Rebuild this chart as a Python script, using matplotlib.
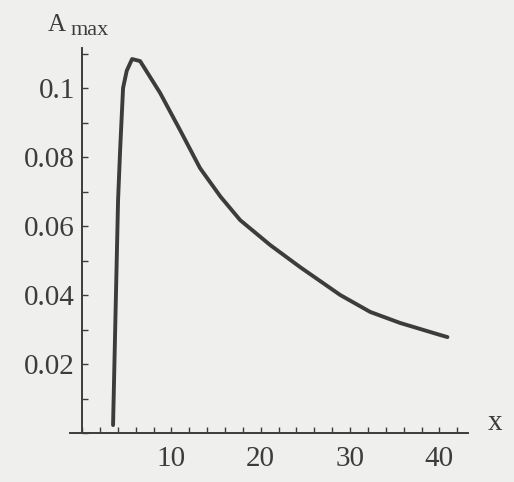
import numpy as np
import matplotlib
matplotlib.use("Agg")
import matplotlib.pyplot as plt
from matplotlib.ticker import MultipleLocator

# curve
x = [3.47, 3.75, 4.03, 4.26, 4.59, 5.0, 5.6, 6.5, 8.73, 10.97, 13.2, 15.5, 17.7,
     21.05, 24.4, 28.9, 32.25, 35.6, 40.1, 40.9]
a_max = [0.0023, 0.035, 0.0675, 0.082, 0.100, 0.105, 0.1084, 0.1078, 0.0986, 0.0878,
         0.0768, 0.0685, 0.0617, 0.0545, 0.0481, 0.0400, 0.0351, 0.0319, 0.0284, 0.0278]

xticks = [10, 20, 30, 40]
yticks = [0.02, 0.04, 0.06, 0.08, 0.1]
ylabels = ["0.02", "0.04", "0.06", "0.08", "0.1"]

ink = "#3c3c3c"
paper = "#efefed"
plt.rcParams["font.family"] = ["Liberation Serif", "DejaVu Serif"]

fig = plt.figure(figsize=(5.14, 4.82), dpi=100, facecolor=paper)
ax = fig.add_axes([70 / 514, 1 - 433 / 482, 398 / 514, 385 / 482])
ax.set_facecolor(paper)

ax.plot(x, a_max, color=ink, lw=2.8, solid_capstyle="round", solid_joinstyle="round")

ax.set_xlim(-1.35, 43.2)
ax.set_ylim(0, 0.1116)

ax.spines["top"].set_visible(False)
ax.spines["right"].set_visible(False)
ax.spines["left"].set_position(("data", 0))
for s in ("left", "bottom"):
    ax.spines[s].set_color(ink)
    ax.spines[s].set_linewidth(1.4)

ax.set_xticks(xticks)
ax.set_yticks(yticks)
ax.set_yticklabels(ylabels)
ax.xaxis.set_minor_locator(MultipleLocator(2))
ax.yaxis.set_minor_locator(MultipleLocator(0.01))
ax.tick_params(which="both", direction="in", color=ink, width=1.0, length=4,
               labelsize=21, labelcolor=ink)
ax.tick_params(axis="x", pad=9)
ax.tick_params(axis="y", pad=5)

fig.text(48 / 514, 1 - 31 / 482, "A", fontsize=18, color=ink, ha="left", va="baseline")
fig.text(71 / 514, 1 - 35 / 482, "max", fontsize=16, color=ink, ha="left", va="baseline")
fig.text(488 / 514, 1 - 430 / 482, "x", fontsize=21, color=ink, ha="left", va="baseline")

fig.savefig("out.png", dpi=100, facecolor=paper)
